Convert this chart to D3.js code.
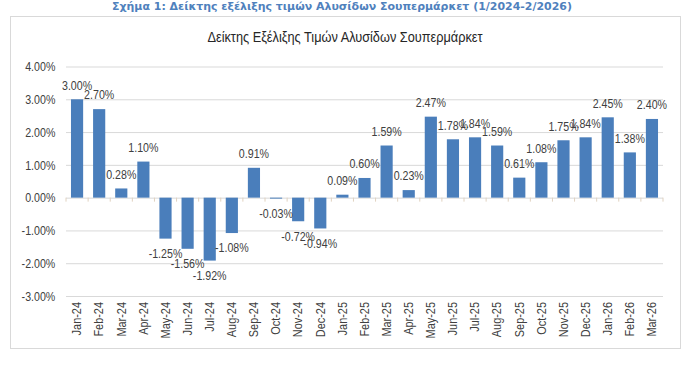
<!DOCTYPE html>
<html>
<head>
<meta charset="utf-8">
<script src="https://cdn.jsdelivr.net/npm/d3@7"></script>
<style>
  body { margin: 0; background: #fff; }
  svg text { font-family: "Liberation Sans", Arial, sans-serif; }
</style>
</head>
<body>
<svg id="chart"></svg>
<script>
"use strict";

// data
var months = ["Jan-24", "Feb-24", "Mar-24", "Apr-24", "May-24", "Jun-24", "Jul-24", "Aug-24", "Sep-24",
    "Oct-24", "Nov-24", "Dec-24", "Jan-25", "Feb-25", "Mar-25", "Apr-25", "May-25", "Jun-25", "Jul-25",
    "Aug-25", "Sep-25", "Oct-25", "Nov-25", "Dec-25", "Jan-26", "Feb-26", "Mar-26"];
var values = [3.00, 2.70, 0.28, 1.10, -1.25, -1.56, -1.92, -1.08, 0.91,
    -0.03, -0.72, -0.94, 0.09, 0.60, 1.59, 0.23, 2.47, 1.78, 1.84,
    1.59, 0.61, 1.08, 1.75, 1.84, 2.45, 1.38, 2.40];
var yTicks = [4, 3, 2, 1, 0, -1, -2, -3];

var caption = "Σχήμα 1: Δείκτης εξέλιξης τιμών Αλυσίδων Σουπερμάρκετ (1/2024-2/2026)";
var title = "Δείκτης Εξέλιξης Τιμών Αλυσίδων Σουπερμάρκετ";

// no narrow font installed, so texts get squeezed horizontally
var NARROW = 0.82;

function pct(d) {
    // hyphen minus like the original, not the d3 unicode minus
    return (d < 0 ? "-" : "") + Math.abs(d).toFixed(2) + "%";
}

var W = 700, H = 369;
var svg = d3.select("#chart").attr("width", W).attr("height", H);

// caption above the box
svg.append("text")
    .attr("x", 112).attr("y", 7)
    .attr("dominant-baseline", "middle")
    .attr("textLength", 460)
    .attr("lengthAdjust", "spacingAndGlyphs")
    .style("font-family", "'DejaVu Sans', Verdana, sans-serif")
    .style("font-weight", "bold")
    .style("font-size", "10.5px")
    .attr("fill", "#4f81bd")
    .text(caption);

// chart frame
svg.append("rect")
    .attr("x", 10.5).attr("y", 16.5)
    .attr("width", 670).attr("height", 332)
    .attr("fill", "#fff")
    .attr("stroke", "#d9d9d9");

svg.append("text")
    .attr("transform", "translate(345,38) scale(0.88,1)")
    .attr("text-anchor", "middle")
    .attr("dominant-baseline", "middle")
    .style("font-size", "14.5px")
    .attr("fill", "#262626")
    .text(title);

var x = d3.scaleBand()
    .domain(months)
    .range([66, 663])
    .paddingInner(0.45)
    .paddingOuter(0.225);

var y = d3.scaleLinear()
    .domain([-3, 4])
    .range([296, 66.5]);

// gridlines + y labels
var yAxis = svg.append("g")
    .attr("transform", "translate(66,0)")
    .call(d3.axisLeft(y)
        .tickValues(yTicks)
        .tickSize(-(663 - 66))
        .tickPadding(13)
        .tickFormat(pct));
yAxis.select(".domain").remove();
yAxis.selectAll(".tick line").attr("stroke", "#d9d9d9");
yAxis.selectAll(".tick text")
    .attr("transform", "scale(" + NARROW + ",1)")
    .style("font-size", "13px")
    .attr("fill", "#404040");

// bars
svg.append("g").selectAll("rect")
    .data(values)
    .join("rect")
    .attr("x", function(d, i) { return x(months[i]); })
    .attr("width", x.bandwidth())
    .attr("y", function(d) { return y(Math.max(0, d)); })
    .attr("height", function(d) { return Math.abs(y(d) - y(0)); })
    .attr("fill", "#4a7ebb");

// category ticks on the zero line
var xAxis = svg.append("g")
    .attr("transform", "translate(0," + y(0) + ")");
xAxis.selectAll("line")
    .data(months.concat([null]))
    .join("line")
    .attr("x1", function(d, i) { return 66 + i * x.step(); })
    .attr("x2", function(d, i) { return 66 + i * x.step(); })
    .attr("y1", 0).attr("y2", 4)
    .attr("stroke", "#e0d2c0");

// month labels, rotated
svg.append("g").selectAll("text")
    .data(months)
    .join("text")
    .attr("transform", function(d) {
        return "translate(" + (x(d) + x.bandwidth() / 2) + ",302) rotate(-90) scale(0.84,1)";
    })
    .attr("text-anchor", "end")
    .attr("dominant-baseline", "central")
    .style("font-size", "13px")
    .attr("fill", "#404040")
    .text(function(d) { return d; });

// data labels
svg.append("g").selectAll("text")
    .data(values)
    .join("text")
    .attr("transform", function(d, i) {
        var lx = x(months[i]) + x.bandwidth() / 2;
        var ly = d >= 0 ? y(d) - 14 : y(d) + 15;
        return "translate(" + lx + "," + ly + ") scale(" + NARROW + ",1)";
    })
    .attr("text-anchor", "middle")
    .attr("dominant-baseline", "central")
    .style("font-size", "13px")
    .attr("fill", "#404040")
    .text(pct);
</script>
</body>
</html>
